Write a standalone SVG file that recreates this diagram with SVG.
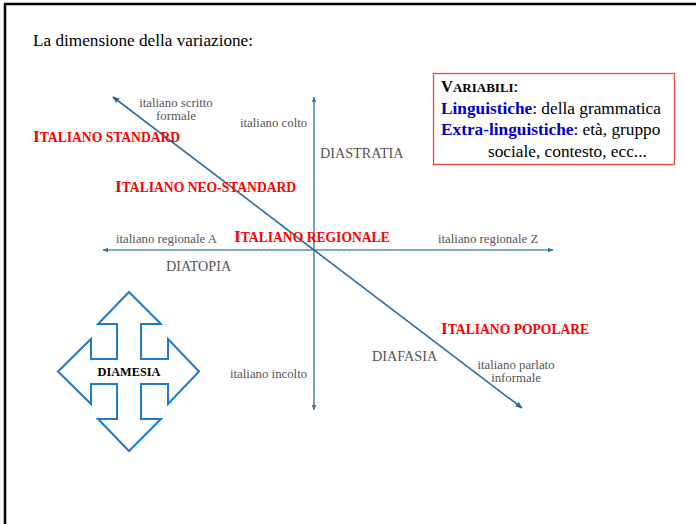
<svg xmlns="http://www.w3.org/2000/svg" width="696" height="524" viewBox="0 0 696 524">
<defs>
<marker id="ah" viewBox="0 0 10 10" refX="9" refY="5" markerWidth="6" markerHeight="6" markerUnits="userSpaceOnUse" orient="auto">
<path d="M0,1 L10,5 L0,9 Z" fill="#3b78a0"/>
</marker>
<marker id="ahd" viewBox="0 0 10 10" refX="9" refY="5" markerWidth="7" markerHeight="7" markerUnits="userSpaceOnUse" orient="auto">
<path d="M0,1 L10,5 L0,9 Z" fill="#2a669a"/>
</marker>
</defs>
<style>
.serif{font-family:"Liberation Serif","Times New Roman",serif}
.lbl{font-family:"Liberation Serif","Times New Roman",serif;font-size:12.8px;fill:#555}
.dim{font-family:"Liberation Serif","Times New Roman",serif;font-size:14.2px;fill:#555}
.red{font-family:"Liberation Serif","Times New Roman",serif;font-weight:bold;fill:#ff0000;font-size:13.6px}
.cap{font-size:17.5px}
.axis{stroke:#5b8fae;stroke-width:1.6;fill:none}
.diag{stroke:#2f6e9e;stroke-width:1.6;fill:none}
.box{font-family:"Liberation Serif","Times New Roman",serif;font-size:17.3px;fill:#000}
.blue{fill:#0000cc;font-weight:bold}
</style>
<rect x="0" y="0" width="696" height="524" fill="#fff"/>
<g id="frame">
<line x1="4" y1="4" x2="696" y2="4" stroke="#000" stroke-width="2.5"/>
<line x1="5" y1="3" x2="5" y2="524" stroke="#000" stroke-width="2.5"/>
</g>
<text class="serif" x="33" y="46" font-size="17.2">La dimensione della variazione:</text>
<g id="connectors">
<line class="axis" x1="314" y1="250" x2="314" y2="97" marker-end="url(#ah)"/>
<line class="axis" x1="314" y1="250" x2="314" y2="410" marker-end="url(#ah)"/>
<line class="axis" x1="314" y1="250" x2="103" y2="250" marker-end="url(#ah)"/>
<line class="axis" x1="314" y1="250" x2="553" y2="250" marker-end="url(#ah)"/>
<line class="diag" x1="314" y1="250" x2="113" y2="97" marker-end="url(#ahd)"/>
<line class="diag" x1="314" y1="250" x2="522" y2="408" marker-end="url(#ahd)"/>
</g>
<g id="labels">
<text class="lbl" x="176" y="107" text-anchor="middle">italiano scritto</text>
<text class="lbl" x="176" y="120" text-anchor="middle">formale</text>
<text class="lbl" x="240" y="127">italiano colto</text>
<text class="dim" x="320" y="158">DIASTRATIA</text>
<text class="lbl" x="116" y="243">italiano regionale A</text>
<text class="lbl" x="438" y="243">italiano regionale Z</text>
<text class="dim" x="166" y="271">DIATOPIA</text>
<text class="lbl" x="230" y="378">italiano incolto</text>
<text class="dim" x="372" y="361">DIAFASIA</text>
<text class="lbl" x="516" y="369" text-anchor="middle">italiano parlato</text>
<text class="lbl" x="516" y="382" text-anchor="middle">informale</text>
</g>
<g id="varieties">
<text class="red" x="33" y="142"><tspan class="cap">I</tspan>TALIANO STANDARD</text>
<text class="red" x="115" y="192"><tspan class="cap">I</tspan>TALIANO NEO-STANDARD</text>
<text class="red" x="234" y="242"><tspan class="cap">I</tspan>TALIANO REGIONALE</text>
<text class="red" x="441" y="334"><tspan class="cap">I</tspan>TALIANO POPOLARE</text>
</g>
<g id="variabili">
<rect x="433.5" y="73.5" width="241" height="91" fill="#fff" stroke="#f04848" stroke-width="1.3"/>
<text class="box" x="441" y="92"><tspan font-weight="bold" font-size="16.5">V</tspan><tspan font-weight="bold" font-size="13">ARIABILI</tspan>:</text>
<text class="box" x="441" y="114"><tspan class="blue">Linguistiche</tspan>: della grammatica</text>
<text class="box" x="441" y="135"><tspan class="blue">Extra-linguistiche</tspan>: età, gruppo</text>
<text class="box" x="488" y="157">sociale, contesto, ecc...</text>
</g>
<g id="diamesia">
<path d="M129,292 L161,324 L141,324 L141,359 L168,359 L168,339 L199,371.5 L168,404 L168,384 L141,384 L141,419 L161,419 L129,451 L98,419 L117,419 L117,384 L91,384 L91,404 L58,371.5 L91,339 L91,359 L117,359 L117,324 L98,324 Z" fill="#fff" stroke="#1f78c8" stroke-width="2"/>
<text class="serif" x="129" y="376" font-size="12.3" font-weight="bold" text-anchor="middle">DIAMESIA</text>
</g>
</svg>
